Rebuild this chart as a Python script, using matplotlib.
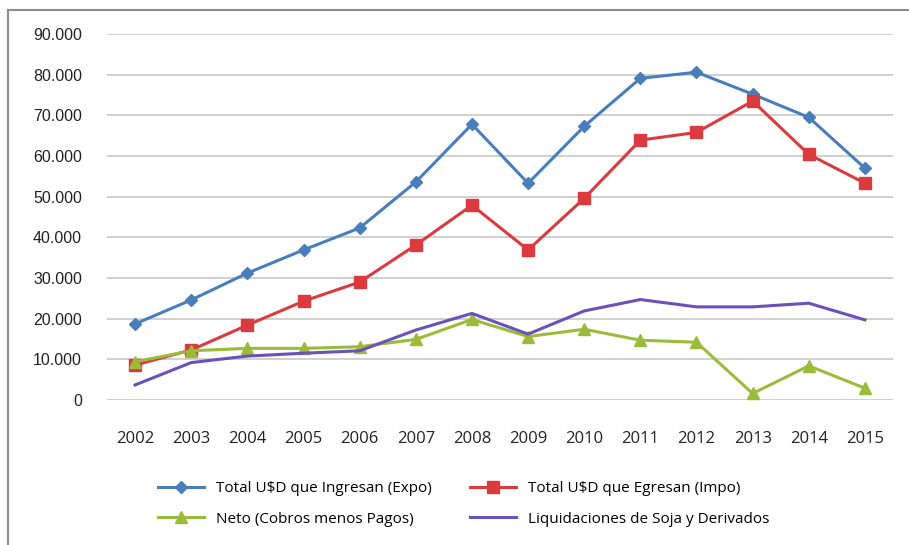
import matplotlib
matplotlib.use("Agg")
import matplotlib.pyplot as plt
from matplotlib.ticker import FuncFormatter, MultipleLocator
from matplotlib.lines import Line2D

years = ["2002", "2003", "2004", "2005", "2006", "2007", "2008", "2009",
         "2010", "2011", "2012", "2013", "2014", "2015"]
expo = [18700, 24600, 31200, 36900, 42300, 53600, 67800, 53300,
        67300, 79100, 80600, 75200, 69500, 57000]
impo = [8600, 12300, 18400, 24300, 29000, 38100, 47900, 36900,
        49600, 63900, 65800, 73500, 60400, 53300]
neto = [9400, 12100, 12700, 12700, 13100, 14900, 19800, 15600,
        17400, 14700, 14200, 1600, 8400, 2900]
soja = [3700, 9200, 10800, 11500, 12100, 17200, 21300, 16200,
        21900, 24700, 22900, 22900, 23800, 19700]

labels = ["Total U$D que Ingresan (Expo)", "Total U$D que Egresan (Impo)",
          "Neto (Cobros menos Pagos)", "Liquidaciones de Soja y Derivados"]

fig = plt.figure(figsize=(9.09, 5.45), dpi=100)
# partial frame (top and left edges visible)
fig.lines.append(Line2D([8/909, 8/909], [0, 1 - 10/545], transform=fig.transFigure,
                        color="#8c8c8c", lw=1.5))
fig.lines.append(Line2D([8/909, 1.0], [1 - 10/545, 1 - 10/545], transform=fig.transFigure,
                        color="#8c8c8c", lw=1.5))
ax = fig.add_axes([107/909, 145/545, 786/909, 366/545])

x = list(range(len(years)))
l1, = ax.plot(x, expo, color="#4A7EBB", lw=2.2, marker="D", ms=6, label=labels[0])
l2, = ax.plot(x, impo, color="#DB3A3F", lw=2.2, marker="s", ms=8, label=labels[1])
l3, = ax.plot(x, neto, color="#9BBB3B", lw=2.2, marker="^", ms=8, label=labels[2])
l4, = ax.plot(x, soja, color="#6A52B8", lw=2.2, label=labels[3])

ax.set_xlim(-0.5, len(years) - 0.5)
ax.set_ylim(0, 90000)
ax.yaxis.set_major_locator(MultipleLocator(10000))
ax.yaxis.set_major_formatter(FuncFormatter(lambda v, p: f"{int(v):,}".replace(",", ".")))
ax.set_xticks(x)
ax.set_xticklabels(years)
ax.grid(axis="y", color="#c8c8c8", lw=1.2)
ax.set_axisbelow(True)
for s in ax.spines.values():
    s.set_visible(False)
ax.tick_params(length=0, labelsize=11.5, colors="#222222")
ax.tick_params(axis="y", pad=18)
ax.tick_params(axis="x", pad=22)
for t in ax.get_xticklabels():
    t.set_fontfamily("Open Sans")
    t.set_fontsize(12)
for t in ax.get_yticklabels():
    t.set_fontfamily("Liberation Sans")

leg = fig.legend([l1, l3, l2, l4], [labels[0], labels[2], labels[1], labels[3]],
                 ncol=2, loc="center", bbox_to_anchor=(0.51, 0.075), frameon=False,
                 handlelength=3, columnspacing=2.5, labelspacing=1.0,
                 prop={"family": "Open Sans", "size": 11})
plt.savefig("out.png", dpi=100)
